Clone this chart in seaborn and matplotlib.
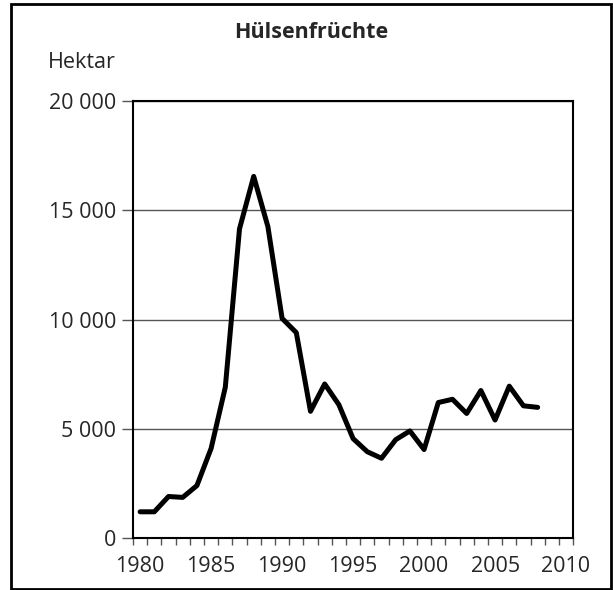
import pandas as pd
import matplotlib.pyplot as plt
import matplotlib.patches as mpatches
from matplotlib.ticker import FuncFormatter
import seaborn as sns

years = list(range(1980, 2009))
hektar = [1200, 1200, 1900, 1860, 2400, 4100, 6900, 14150, 16550, 14250,
          10050, 9400, 5800, 7050, 6100, 4550, 3950, 3650, 4500, 4900,
          4050, 6200, 6350, 5700, 6750, 5400, 6950, 6050, 5980]
xtick_years = [1980, 1985, 1990, 1995, 2000, 2005, 2010]
yticks = [0, 5000, 10000, 15000, 20000]

df = pd.DataFrame({'Jahr': years, 'Hektar': hektar})

sns.set_style('white')
plt.rcParams['font.family'] = ['Open Sans', 'DejaVu Sans']

fig = plt.figure(figsize=(6.13, 5.90), dpi=100)
ax = fig.add_axes([0.217, 0.0881, 0.718, 0.7407])

sns.lineplot(data=df, x='Jahr', y='Hektar', ax=ax, color='black', linewidth=3.6)

ax.set_xlim(1979.5, 2010.5)
ax.set_ylim(0, 20000)
ax.set_xticks(xtick_years)
ax.set_xticks([y - 0.5 for y in range(1980, 2012)], minor=True)
ax.set_yticks(yticks)
ax.yaxis.set_major_formatter(FuncFormatter(lambda v, p: f'{int(v):,}'.replace(',', ' ')))
ax.tick_params(axis='x', which='major', length=0, pad=13, labelsize=15.5)
ax.tick_params(axis='x', which='minor', length=5, width=1, color='#555555', direction='out', bottom=True)
ax.tick_params(axis='y', which='major', length=8, width=1, color='#555555', direction='out', left=True, pad=4, labelsize=15.5)
ax.grid(axis='y', color='#555555', linewidth=1)
ax.set_xlabel('')
ax.set_ylabel('')
for s in ax.spines.values():
    s.set_color('black')
    s.set_linewidth(1.5)

fig.text(0.508, 1 - 32 / 590, 'Hülsenfrüchte', ha='center', va='center', fontsize=15.5, fontweight='bold')
fig.text(48 / 613, 1 - 63 / 590, 'Hektar', ha='left', va='center', fontsize=15.5)

fig.patches.append(mpatches.Rectangle((11 / 613, 0.002), 600 / 613, 585 / 590, transform=fig.transFigure,
                                      fill=False, edgecolor='black', linewidth=2))

fig.savefig('out.png', dpi=100)
